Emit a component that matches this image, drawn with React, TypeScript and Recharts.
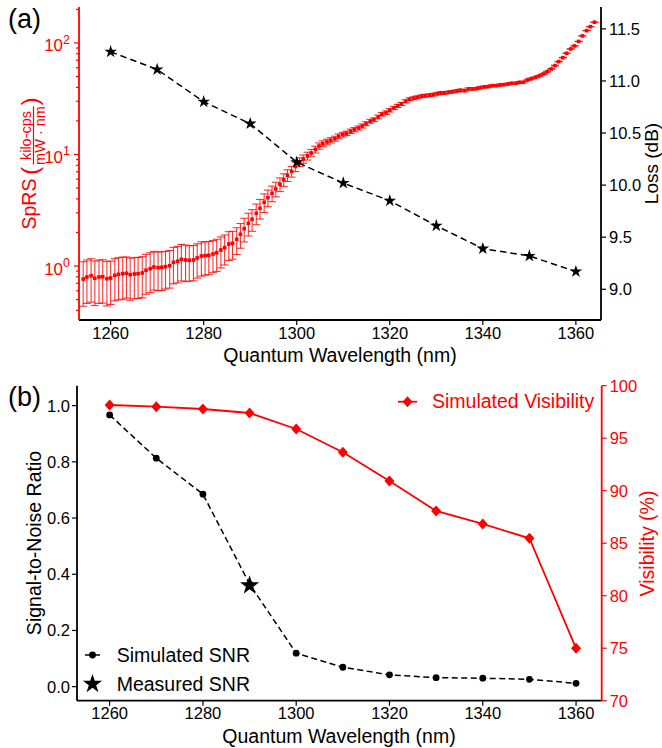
import React from "react";
import { ScatterChart, Scatter, XAxis, YAxis, ErrorBar, Symbols } from "recharts";

const RED = "#ff0000";
const FONT = "'Liberation Sans', Arial, sans-serif";

// ---- panel (a): SpRS spectrum (left, log) and fibre loss (right) ----
const sprsWavelength = [
  1254.1, 1254.9, 1255.8, 1256.6, 1257.5, 1258.3, 1259.2, 1260.0, 1260.9, 1261.7,
  1262.6, 1263.4, 1264.2, 1265.1, 1265.9, 1266.8, 1267.6, 1268.5, 1269.3, 1270.2,
  1271.0, 1271.8, 1272.7, 1273.5, 1274.4, 1275.2, 1276.1, 1276.9, 1277.8, 1278.6,
  1279.5, 1280.3, 1281.1, 1282.0, 1282.8, 1283.7, 1284.5, 1285.4, 1286.2, 1287.1,
  1287.9, 1288.7, 1289.6, 1290.4, 1291.3, 1292.1, 1293.0, 1293.8, 1294.7, 1295.5,
  1296.4, 1297.2, 1298.0, 1298.9, 1299.7, 1300.6, 1301.4, 1302.3, 1303.1, 1304.0,
  1304.8, 1305.6, 1306.5, 1307.3, 1308.2, 1309.0, 1309.9, 1310.7, 1311.6, 1312.4,
  1313.3, 1314.1, 1314.9, 1315.8, 1316.6, 1317.5, 1318.3, 1319.2, 1320.0, 1320.9,
  1321.7, 1322.5, 1323.4, 1324.2, 1325.1, 1325.9, 1326.8, 1327.6, 1328.5, 1329.3,
  1330.2, 1331.0, 1331.8, 1332.7, 1333.5, 1334.4, 1335.2, 1336.1, 1336.9, 1337.8,
  1338.6, 1339.4, 1340.3, 1341.1, 1342.0, 1342.8, 1343.7, 1344.5, 1345.4, 1346.2,
  1347.1, 1347.9, 1348.7, 1349.6, 1350.4, 1351.3, 1352.1, 1353.0, 1353.8, 1354.7,
  1355.5, 1356.3, 1357.2, 1358.0, 1358.9, 1359.7, 1360.6, 1361.4, 1362.3, 1363.1,
  1364.0,
];

const sprsValue = [
  0.764, 0.797, 0.818, 0.776, 0.797, 0.802, 0.769, 0.78, 0.825, 0.843,
  0.853, 0.86, 0.836, 0.848, 0.853, 0.866, 0.915, 0.946, 0.98, 0.966,
  0.973, 0.986, 1.006, 1.08, 1.102, 1.148, 1.132, 1.125, 1.132, 1.18,
  1.229, 1.237, 1.247, 1.281, 1.316, 1.392, 1.459, 1.575, 1.598, 1.736,
  1.924, 2.161, 2.415, 2.624, 2.969, 3.293, 3.727, 4.099, 4.487, 4.905,
  5.404, 5.943, 6.51, 7.039, 7.806, 8.567, 9.114, 9.694, 10.31, 11.09,
  11.92, 12.5, 12.95, 13.41, 13.86, 14.56, 15.06, 15.49, 16.15, 16.69,
  17.29, 18.02, 18.89, 19.85, 20.51, 21.7, 22.94, 23.71, 24.91, 26.12,
  27.23, 28.38, 30.0, 31.27, 31.92, 32.58, 33.27, 33.68, 33.96, 34.38,
  35.1, 35.61, 35.61, 36.13, 36.58, 37.11, 37.65, 37.34, 38.68, 38.68,
  38.92, 39.73, 40.31, 40.56, 41.4, 41.4, 42.01, 42.27, 42.89, 43.51,
  43.51, 44.42, 44.42, 46.58, 47.84, 49.25, 50.58, 52.72, 55.28, 58.45,
  62.58, 67.99, 73.83, 80.86, 88.35, 93.99, 103.2, 115.6, 128.9, 140.0,
  153.4,
];

// relative size of each error bar
const sprsRelErr = [
  0.43, 0.42, 0.42, 0.43, 0.42, 0.42, 0.43, 0.42, 0.41, 0.41,
  0.41, 0.4, 0.41, 0.4, 0.4, 0.4, 0.39, 0.39, 0.38, 0.38,
  0.38, 0.37, 0.37, 0.36, 0.36, 0.36, 0.36, 0.35, 0.35, 0.34,
  0.34, 0.33, 0.33, 0.32, 0.32, 0.31, 0.3, 0.29, 0.28, 0.27,
  0.25, 0.24, 0.23, 0.22, 0.21, 0.2, 0.19, 0.17, 0.16, 0.15,
  0.14, 0.13, 0.12, 0.11, 0.1, 0.09, 0.085, 0.08, 0.075, 0.07,
  0.065, 0.06, 0.058, 0.055, 0.052, 0.05, 0.048, 0.046, 0.045, 0.044,
  0.043, 0.042, 0.041, 0.04, 0.039, 0.038, 0.037, 0.036, 0.035, 0.034,
  0.033, 0.032, 0.031, 0.03, 0.03, 0.029, 0.028, 0.028, 0.027, 0.027,
  0.026, 0.026, 0.025, 0.025, 0.024, 0.024, 0.023, 0.023, 0.022, 0.022,
  0.021, 0.021, 0.02, 0.02, 0.019, 0.019, 0.018, 0.018, 0.017, 0.017,
  0.016, 0.016, 0.015, 0.014, 0.013, 0.012, 0.011, 0.01, 0.009, 0.008,
  0.007, 0.006, 0.006, 0.005, 0.005, 0.004, 0.004, 0.003, 0.003, 0.003,
  0.003,
];

const lossWavelength = [1260, 1270, 1280, 1290, 1300, 1310, 1320, 1330, 1340, 1350, 1360];
const lossDb = [11.28, 11.11, 10.8, 10.59, 10.22, 10.02, 9.85, 9.61, 9.39, 9.32, 9.17];

// ---- panel (b): SNR (left) and visibility (right) ----
const simWavelength = [1260, 1270, 1280, 1290, 1300, 1310, 1320, 1330, 1340, 1350, 1360];
const snrSimulated = [0.967, 0.813, 0.685, 0.365, 0.119, 0.069, 0.042, 0.032, 0.03, 0.026, 0.012];
const visibilitySim = [98.16, 98.0, 97.78, 97.4, 95.88, 93.66, 90.92, 88.07, 86.83, 85.47, 74.99];
const measuredWavelength = [1290];
const measuredSnr = [0.36];

const wlTicks = [1260, 1280, 1300, 1320, 1340, 1360];
const logTicks = [0.4, 0.5, 0.6, 0.7, 0.8, 0.9, 1, 2, 3, 4, 5, 6, 7, 8, 9, 10, 20, 30, 40, 50, 60, 70, 80, 90, 100, 200];
const lossTicks = [9, 9.5, 10, 10.5, 11, 11.5];
const snrTicks = [0, 0.2, 0.4, 0.6, 0.8, 1.0];
const visTicks = [70, 75, 80, 85, 90, 95, 100];

const sprsData = sprsWavelength.map((w, i) => ({ w, v: sprsValue[i], e: sprsValue[i] * sprsRelErr[i] }));
const lossData = lossWavelength.map((w, i) => ({ w, v: lossDb[i] }));
const snrData = simWavelength.map((w, i) => ({ w, v: snrSimulated[i] }));
const visData = simWavelength.map((w, i) => ({ w, v: visibilitySim[i] }));
const measData = measuredWavelength.map((w, i) => ({ w, v: measuredSnr[i] }));

const tickFont = { fontSize: 16.5, fontFamily: FONT };

const LogTick = (props: any) => {
  const { x, y, payload } = props;
  const lg = Math.log10(payload.value);
  const exp = Math.round(lg);
  const major = Math.abs(lg - exp) < 1e-6;
  return (
    <g>
      <line x1={x - (major ? 5 : 3)} x2={x} y1={y} y2={y} stroke={RED} strokeWidth={1.2} />
      {major && (
        <text x={x - 9} y={y + 8.5} textAnchor="end" fill={RED} fontSize={17} fontFamily={FONT}>
          10
          <tspan fontSize={12.5} dy={-7.5}>
            {exp}
          </tspan>
        </text>
      )}
    </g>
  );
};

const RedDot = (p: any) => <rect x={p.cx - 1.8} y={p.cy - 1.8} width={3.6} height={3.6} fill={RED} />;
const SmallStar = (p: any) => <Symbols cx={p.cx} cy={p.cy} type="star" size={50} fill="#000" />;
const BigStar = (p: any) => <Symbols cx={p.cx} cy={p.cy} type="star" size={115} fill="#000" />;
const Dot = (p: any) => <circle cx={p.cx} cy={p.cy} r={3.4} fill="#000" />;
const Diamond = (p: any) => (
  <polygon
    points={`${p.cx},${p.cy - 5.5} ${p.cx + 5},${p.cy} ${p.cx},${p.cy + 5.5} ${p.cx - 5},${p.cy}`}
    fill={RED}
  />
);

export default function App() {
  return (
    <div style={{ position: "absolute", left: 0, top: 0, width: 662, height: 748, fontFamily: FONT, background: "#fff" }}>
      <div style={{ position: "absolute", left: 0, top: 0 }}>
        <ScatterChart width={662} height={374} margin={{ top: 7, right: 0, bottom: 24, left: 0 }}>
          <XAxis
            xAxisId="b"
            type="number"
            dataKey="w"
            domain={[1253.2, 1365.4]}
            allowDataOverflow
            ticks={wlTicks}
            interval={0}
            height={30}
            stroke="#000"
            axisLine={{ stroke: "#000", strokeWidth: 1.8 }}
            tickLine={{ stroke: "#000", strokeWidth: 1.2 }}
            tickSize={5}
            tickMargin={2}
            tick={{ ...tickFont, fill: "#000" }}
          />
          <XAxis
            xAxisId="t"
            orientation="top"
            type="number"
            dataKey="w"
            domain={[1253.2, 1365.4]}
            allowDataOverflow
            height={0}
            tick={false}
            tickLine={false}
            axisLine={{ stroke: "#000", strokeWidth: 1.8 }}
          />
          <YAxis
            yAxisId="l"
            type="number"
            dataKey="v"
            scale="log"
            domain={[0.328, 210]}
            allowDataOverflow
            ticks={logTicks}
            interval={0}
            width={79}
            tickSize={0}
            tickMargin={0}
            tickLine={false}
            tick={<LogTick />}
            axisLine={{ stroke: RED, strokeWidth: 1.8 }}
          />
          <YAxis
            yAxisId="r"
            orientation="right"
            type="number"
            dataKey="v"
            domain={[8.705, 11.71]}
            allowDataOverflow
            ticks={lossTicks}
            interval={0}
            width={61}
            stroke="#000"
            axisLine={{ stroke: "#000", strokeWidth: 1.8 }}
            tickLine={{ stroke: "#000", strokeWidth: 1.2 }}
            tickSize={5}
            tickMargin={3}
            tickFormatter={(v: number) => v.toFixed(1)}
            tick={{ ...tickFont, fill: "#000" }}
          />
          <Scatter data={sprsData} xAxisId="b" yAxisId="l" shape={RedDot} isAnimationActive={false}>
            <ErrorBar dataKey="e" direction="y" width={4} stroke="rgba(255,0,0,0.8)" strokeWidth={1.1} />
          </Scatter>
          <Scatter
            data={lossData}
            xAxisId="b"
            yAxisId="r"
            shape={SmallStar}
            line={{ stroke: "#000", strokeWidth: 1.5, strokeDasharray: "6.5 4" }}
            isAnimationActive={false}
          />
        </ScatterChart>
      </div>

      <div style={{ position: "absolute", left: 0, top: 374 }}>
        <ScatterChart width={662} height={374} margin={{ top: 11.7, right: 0, bottom: 17.3, left: 0 }}>
          <XAxis
            xAxisId="b"
            type="number"
            dataKey="w"
            domain={[1253, 1365.5]}
            allowDataOverflow
            ticks={wlTicks}
            interval={0}
            height={30}
            stroke="#000"
            axisLine={{ stroke: "#000", strokeWidth: 1.8 }}
            tickLine={{ stroke: "#000", strokeWidth: 1.2 }}
            tickSize={5}
            tickMargin={2}
            tick={{ ...tickFont, fill: "#000" }}
          />
          <XAxis
            xAxisId="t"
            orientation="top"
            type="number"
            dataKey="w"
            domain={[1253, 1365.5]}
            allowDataOverflow
            height={0}
            tick={false}
            tickLine={false}
            axisLine={{ stroke: "#000", strokeWidth: 1.8 }}
          />
          <YAxis
            yAxisId="l"
            type="number"
            dataKey="v"
            domain={[-0.05, 1.071]}
            allowDataOverflow
            ticks={snrTicks}
            interval={0}
            width={77}
            stroke="#000"
            axisLine={{ stroke: "#000", strokeWidth: 1.8 }}
            tickLine={{ stroke: "#000", strokeWidth: 1.2 }}
            tickSize={5}
            tickMargin={2}
            tickFormatter={(v: number) => v.toFixed(1)}
            tick={{ ...tickFont, fill: "#000" }}
          />
          <YAxis
            yAxisId="r"
            orientation="right"
            type="number"
            dataKey="v"
            domain={[70, 100]}
            allowDataOverflow
            ticks={visTicks}
            interval={0}
            width={60.3}
            stroke={RED}
            axisLine={{ stroke: RED, strokeWidth: 1.8 }}
            tickLine={{ stroke: RED, strokeWidth: 1.2 }}
            tickSize={5}
            tickMargin={3}
            tick={{ ...tickFont, fill: RED }}
          />
          <Scatter
            data={visData}
            xAxisId="b"
            yAxisId="r"
            shape={Diamond}
            line={{ stroke: RED, strokeWidth: 1.8 }}
            isAnimationActive={false}
          />
          <Scatter
            data={snrData}
            xAxisId="b"
            yAxisId="l"
            shape={Dot}
            line={{ stroke: "#000", strokeWidth: 1.5, strokeDasharray: "6 3.5" }}
            isAnimationActive={false}
          />
          <Scatter data={measData} xAxisId="b" yAxisId="l" shape={BigStar} isAnimationActive={false} />
        </ScatterChart>
      </div>

      <svg
        width={662}
        height={748}
        style={{ position: "absolute", left: 0, top: 0, pointerEvents: "none" }}
        fontFamily={FONT}
      >
        <text x={8} y={28} fontSize={27}>(a)</text>
        <text x={8} y={406} fontSize={27}>(b)</text>

        <text x={340} y={361.5} textAnchor="middle" fontSize={19.5}>Quantum Wavelength (nm)</text>
        <text x={339} y={742.5} textAnchor="middle" fontSize={19.5}>Quantum Wavelength (nm)</text>

        <g transform="translate(0,163.5) rotate(-90)" fill={RED}>
          <text x={-66} y={36} fontSize={19.5}>SpRS</text>
          <text x={-11.5} y={38} fontSize={24.5}>(</text>
          <text x={28} y={30.5} fontSize={14.5} textAnchor="middle">kilo-cps</text>
          <line x1={-1} x2={57} y1={33.5} y2={33.5} stroke={RED} strokeWidth={1.2} />
          <text x={28} y={45} fontSize={14.5} textAnchor="middle">mW · nm</text>
          <text x={58} y={38} fontSize={24.5}>)</text>
        </g>
        <text transform="translate(658,163.5) rotate(-90)" textAnchor="middle" fontSize={19}>Loss (dB)</text>

        <text transform="translate(40.7,543) rotate(-90)" textAnchor="middle" fontSize={19.5}>Signal-to-Noise Ratio</text>
        <text transform="translate(654,543.5) rotate(-90)" textAnchor="middle" fontSize={19.5} fill={RED}>Visibility (%)</text>

        <line x1={398} x2={417} y1={401.7} y2={401.7} stroke={RED} strokeWidth={1.8} />
        <polygon points="407.5,396.2 412.5,401.7 407.5,407.2 402.5,401.7" fill={RED} />
        <text x={432} y={408} fontSize={19.5} fill={RED}>Simulated Visibility</text>

        <line x1={85} x2={100} y1={655} y2={655} stroke="#000" strokeWidth={1.5} />
        <circle cx={92.5} cy={655} r={3.4} fill="#000" />
        <text x={116.7} y={662} fontSize={19.5}>Simulated SNR</text>
        <Symbols cx={92.5} cy={684} type="star" size={115} fill="#000" />
        <text x={116.7} y={690.5} fontSize={19.5}>Measured SNR</text>
      </svg>
    </div>
  );
}
